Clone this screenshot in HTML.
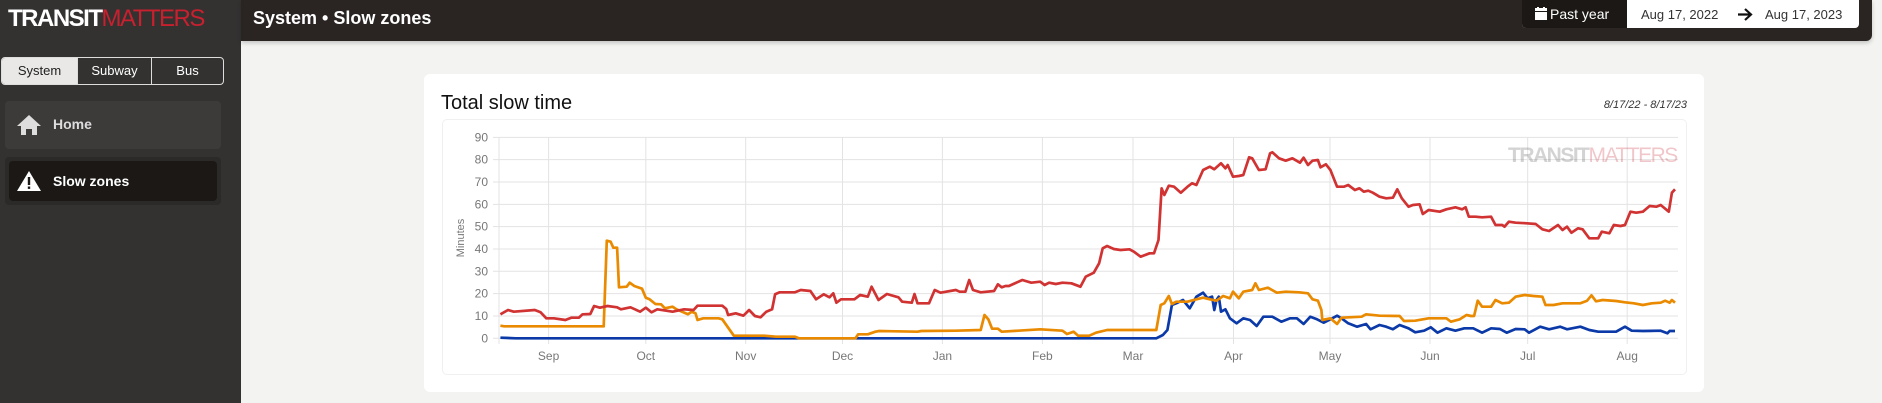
<!DOCTYPE html>
<html><head><meta charset="utf-8">
<style>
*{margin:0;padding:0;box-sizing:border-box}
body{width:1882px;height:403px;background:#f3f3f2;font-family:"Liberation Sans",sans-serif;position:relative;overflow:hidden}
.side{position:absolute;left:0;top:0;width:241px;height:403px;background:#333231}
.hdr{position:absolute;left:241px;top:0;width:1631px;height:41px;background:#2a2523;border-bottom-right-radius:6px;box-shadow:0 2px 4px rgba(0,0,0,.2)}
.abs{position:absolute}
</style></head><body>
<div class="side">
 <div class="abs" style="left:8px;top:5px;font-size:24px;letter-spacing:-1.5px;line-height:28px;white-space:nowrap"><b style="color:#fff">TRANSIT</b><span style="color:#c8202f;font-weight:300">MATTERS</span></div>
 <div class="abs" style="left:1px;top:57px;width:223px;height:28px;border:1px solid #ddd;border-radius:4px;overflow:hidden;display:flex;font-size:13px;color:#fff">
  <div style="width:75px;background:#e9e8e7;color:#222;text-align:center;line-height:26px">System</div>
  <div style="width:74px;border-left:1px solid #ddd;text-align:center;line-height:26px">Subway</div>
  <div style="flex:1;border-left:1px solid #ddd;text-align:center;line-height:26px">Bus</div>
 </div>
 <div class="abs" style="left:5px;top:101px;width:216px;height:48px;background:#3c3b3a;border-radius:4px"></div>
 <svg class="abs" style="left:16px;top:114px" width="26" height="22" viewBox="0 0 26 22"><path d="M13 1 L25 12 L21 12 L21 21 L16 21 L16 15 L10 15 L10 21 L5 21 L5 12 L1 12Z" fill="#ddd"/></svg>
 <div class="abs" style="left:53px;top:116px;color:#ddd;font-size:14px;font-weight:bold">Home</div>
 <div class="abs" style="left:5px;top:157px;width:216px;height:48px;background:#2b2a29;border-radius:4px"></div>
 <div class="abs" style="left:9px;top:161px;width:208px;height:40px;background:#1c1816;border-radius:4px"></div>
 <svg class="abs" style="left:16px;top:170px" width="26" height="22" viewBox="0 0 26 22"><path d="M13 1 L25 21 L1 21Z" fill="#fff"/><rect x="11.8" y="7" width="2.4" height="8" fill="#1c1816"/><rect x="11.8" y="16.5" width="2.4" height="2.4" fill="#1c1816"/></svg>
 <div class="abs" style="left:53px;top:173px;color:#fff;font-size:14px;font-weight:bold">Slow zones</div>
</div>
<div class="hdr">
 <div class="abs" style="left:12px;top:8px;color:#fff;font-size:18px;font-weight:bold">System • Slow zones</div>
</div>
<div class="abs" style="left:1522px;top:0;width:337px;height:28px;background:#fff;border-radius:0 0 4px 4px;overflow:hidden;font-size:13px">
 <div class="abs" style="left:0;top:0;width:105px;height:28px;background:#1c1816;color:#fff;font-size:14px;line-height:28px;padding-left:13px">
  <svg width="12" height="13" style="vertical-align:-1px;margin-right:3px"><rect x="0" y="1" width="12" height="3" fill="#fff"/><rect x="0" y="5" width="12" height="8" fill="#fff"/><rect x="2" y="0" width="2" height="2" fill="#fff"/><rect x="8" y="0" width="2" height="2" fill="#fff"/></svg>Past year</div>
 <div class="abs" style="left:119px;top:7px;color:#333">Aug 17, 2022</div>
 <svg class="abs" style="left:215px;top:8px" width="16" height="13"><path d="M1 6.5 H14 M8 1 L14 6.5 L8 12" stroke="#111" stroke-width="2.2" fill="none"/></svg>
 <div class="abs" style="left:243px;top:7px;color:#333">Aug 17, 2023</div>
</div>
<div class="abs" style="left:424px;top:74px;width:1280px;height:318px;background:#fff;border-radius:6px"></div>
<div class="abs" style="left:441px;top:92px;font-size:20px;color:#111">Total slow time</div>
<div class="abs" style="left:1590px;top:99px;font-size:11px;font-style:italic;color:#333;width:97px;text-align:right">8/17/22 - 8/17/23</div>
<div class="abs" style="left:442px;top:119px;width:1245px;height:256px;border:1px solid #f0f0f0;border-radius:5px"></div>
<svg class="abs" style="left:0;top:0" width="1882" height="403" id="ch">
 <text x="1508" y="162" font-family="Liberation Sans,sans-serif" font-size="21" letter-spacing="-1.5" opacity="0.25"><tspan fill="#555" font-weight="bold">TRANSIT</tspan><tspan fill="#c8202f">MATTERS</tspan></text>
</svg>
<script>
var s=document.getElementById('ch'),h='';
function Y(v){return 338.3-2.233*v}
for(var v=0;v<=90;v+=10){var y=Y(v);h+='<line x1="493" x2="1678" y1="'+y+'" y2="'+y+'" stroke="#e3e3e3"/>';h+='<text x="488" y="'+(y+4)+'" text-anchor="end" font-size="12" fill="#777" font-family="Liberation Sans,sans-serif">'+v+'</text>'}
var m=[['Sep',548.6],['Oct',645.8],['Nov',745.7],['Dec',842.5],['Jan',942.4],['Feb',1042.4],['Mar',1133],['Apr',1233.5],['May',1330],['Jun',1430],['Jul',1527.7],['Aug',1627.2]];
h+='<line x1="499" x2="499" y1="137" y2="344" stroke="#e3e3e3"/>';
m.forEach(function(a){h+='<line x1="'+a[1]+'" x2="'+a[1]+'" y1="137" y2="344" stroke="#e3e3e3"/><text x="'+a[1]+'" y="360" text-anchor="middle" font-size="12" fill="#777" font-family="Liberation Sans,sans-serif">'+a[0]+'</text>'});
h+='<text transform="translate(464,238) rotate(-90)" text-anchor="middle" font-size="11" fill="#777" font-family="Liberation Sans,sans-serif">Minutes</text>';
function P(a,b,col){var p=[],X,last=0;for(var i=0;i<a.length;i+=2){X=420+a[i]/2.613;if(X>1010)break;p.push(X.toFixed(1)+','+(70+a[i+1]/3).toFixed(1));last=X}for(i=0;i<b.length;i+=2){X=1000+b[i]/2.24;if(X<=last)continue;p.push(X.toFixed(1)+','+(70+b[i+1]/3).toFixed(1))}h+='<polyline points="'+p.join(' ')+'" fill="none" stroke="'+col+'" stroke-width="2.7" stroke-linejoin="round"/>'}
P([210,803,250,805,1500,805],[0,805,350,805,365,795,375,780,385,705,395,700,410,690,425,715,440,680,455,668,465,685,475,680,480,720,485,690,490,680,495,725,505,718,515,745,530,760,545,745,560,750,575,768,590,740,610,740,630,755,650,745,665,745,680,762,695,740,710,748,725,758,740,748,755,737,765,745,780,760,800,770,820,762,830,778,850,765,865,770,880,778,895,765,915,775,930,787,950,782,965,772,980,788,1000,775,1020,782,1040,775,1060,775,1080,788,1100,775,1120,777,1135,788,1155,777,1175,778,1185,788,1210,770,1230,778,1255,770,1270,778,1300,770,1320,780,1340,785,1380,785,1400,770,1415,782,1440,783,1480,782,1495,790,1500,783,1512,783],'#0b3aa8');
P([210,767,220,769,480,769,488,512,498,515,505,533,515,533,520,652,540,650,548,638,560,648,580,656,590,683,600,688,615,702,630,703,640,715,660,710,670,718,700,733,710,725,720,730,725,750,740,745,780,745,790,748,820,797,900,797,930,800,980,800,990,805,1138,805,1145,793,1170,793,1190,785,1200,783,1300,785,1310,783,1400,782,1465,780,1475,735,1485,748,1495,776,1510,776,1520,785,1568,784],
[0,783,90,778,140,782,150,792,165,785,175,797,200,797,215,788,240,780,350,780,360,705,368,700,378,678,385,702,395,695,420,695,440,688,455,683,470,688,485,692,500,678,515,685,522,665,535,685,545,665,565,660,572,640,580,660,600,653,620,668,640,665,670,667,690,670,700,688,712,692,720,720,722,750,740,745,755,762,765,743,810,740,820,733,850,737,895,738,905,753,930,752,960,745,1000,745,1010,755,1030,748,1045,735,1055,738,1062,738,1070,692,1080,710,1100,710,1110,690,1125,700,1140,698,1155,680,1175,675,1195,678,1215,680,1222,705,1240,705,1260,700,1300,700,1315,692,1325,676,1335,694,1350,690,1380,693,1400,697,1420,700,1440,705,1460,700,1480,698,1490,692,1500,698,1505,690,1512,698],'#e98a00');
P([210,733,230,720,245,725,300,720,315,727,330,745,350,745,380,750,395,743,415,743,425,733,445,732,455,708,470,713,490,708,515,712,525,718,550,712,575,725,590,713,605,727,620,718,660,725,690,718,715,720,725,707,770,707,790,707,800,717,805,735,825,730,845,737,860,720,875,738,890,742,905,725,920,718,928,673,940,667,980,667,995,660,1020,663,1035,688,1055,673,1070,682,1080,670,1088,698,1100,688,1135,688,1150,675,1170,680,1180,650,1198,690,1220,672,1250,682,1260,695,1285,698,1292,672,1300,700,1330,700,1345,660,1360,668,1400,660,1410,665,1425,665,1435,630,1445,660,1465,667,1500,663,1510,643,1520,652,1530,648,1545,650,1568,645],
[0,650,20,648,50,630,70,638,90,635,100,645,110,638,125,642,140,638,160,640,180,650,192,620,210,608,222,580,230,535,240,528,255,537,270,540,290,538,300,545,315,560,335,550,345,550,355,510,362,355,368,375,378,347,390,350,405,368,420,350,430,340,440,345,455,300,470,290,480,298,495,280,505,295,510,285,522,320,535,318,545,315,558,262,565,265,580,300,595,298,605,250,610,247,625,265,640,272,655,265,672,278,680,263,690,285,700,272,712,270,718,292,730,283,740,300,755,350,770,350,780,345,795,360,805,355,815,365,825,362,835,368,850,380,865,385,880,383,890,358,900,385,915,410,925,405,940,403,947,432,960,420,985,425,1000,418,1020,412,1035,418,1043,412,1050,440,1065,440,1080,442,1100,440,1110,465,1125,465,1130,470,1140,455,1155,458,1180,460,1200,462,1215,478,1230,483,1250,465,1260,480,1270,470,1280,488,1295,475,1305,478,1320,505,1340,505,1348,485,1365,490,1375,465,1390,468,1400,465,1412,425,1425,428,1440,425,1455,408,1470,410,1480,405,1498,425,1505,368,1512,358],'#d13232');
s.insertAdjacentHTML('afterbegin',h);
</script>
</body></html>
